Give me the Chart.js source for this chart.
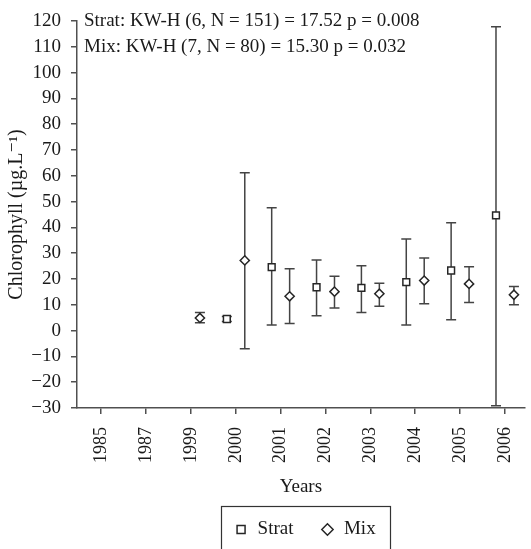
<!DOCTYPE html>
<html>
<head>
<meta charset="utf-8">
<script src="https://cdn.jsdelivr.net/npm/chart.js@4.4.1/dist/chart.umd.min.js"></script>
<style>
html, body { margin: 0; padding: 0; background: #ffffff; }
canvas { display: block; }
</style>
</head>
<body>
<canvas id="chart" width="531" height="549"></canvas>
<script>
// ---- data ----
const categories = ['1985', '1987', '1999', '2000', '2001', '2002', '2003', '2004', '2005', '2006'];
const seriesNames = ['Strat', 'Mix'];

const stratMean = [null, null, null, 4.5, 24.6, 16.8, 16.6, 18.8, 23.3, 44.7];
const stratLow  = [null, null, null, 3.5,  2.2,  5.8,  7.0,  2.2,  4.2, -29.1];
const stratHigh = [null, null, null, 5.5, 47.6, 27.4, 25.1, 35.5, 41.8, 117.8];

const mixMean = [null, null, 4.9, 27.2, 13.3, 15.1, 14.3, 19.4, 18.1, 13.9];
const mixLow  = [null, null, 3.0, -7.0,  2.8,  8.8,  9.4, 10.4, 10.9, 10.0];
const mixHigh = [null, null, 7.0, 61.2, 24.0, 21.1, 18.4, 28.1, 24.7, 17.1];

const yMin = -30, yMax = 120, yStep = 10;
const statLines = [
  'Strat: KW-H (6, N = 151) = 17.52 p = 0.008',
  'Mix: KW-H (7, N = 80) = 15.30 p = 0.032'
];
const yTitle = 'Chlorophyll (\u00b5g.L\u207b\u00b9)';
const xTitle = 'Years';

// ---- style ----
const SERIF = '"Liberation Serif", "Times New Roman", "DejaVu Serif", serif';
const INK = '#1a1a1a';
const AXIS = '#505050';
const FS = 19;
const GROUP_SHIFT = 0.2; // side-by-side placement inside a year

function buildPoints(mean, low, high, shift) {
  const pts = [];
  mean.forEach((v, i) => {
    if (v === null) return;
    pts.push({ x: i + shift, y: v, lo: low[i], hi: high[i] });
  });
  return pts;
}

const errorBars = {
  id: 'errorBars',
  beforeDatasetsDraw(chart) {
    const ctx = chart.ctx;
    const y = chart.scales.y;
    ctx.save();
    ctx.strokeStyle = '#444444';
    ctx.lineWidth = 1.5;
    chart.data.datasets.forEach((ds, di) => {
      const meta = chart.getDatasetMeta(di);
      meta.data.forEach((pt, j) => {
        const d = ds.data[j];
        const x = pt.x;
        const yl = y.getPixelForValue(d.lo);
        const yh = y.getPixelForValue(d.hi);
        ctx.beginPath();
        ctx.moveTo(x, yl); ctx.lineTo(x, yh);
        ctx.moveTo(x - 5, yl); ctx.lineTo(x + 5, yl);
        ctx.moveTo(x - 5, yh); ctx.lineTo(x + 5, yh);
        ctx.stroke();
      });
    });
    ctx.restore();
  }
};

const statText = {
  id: 'statText',
  afterDatasetsDraw(chart) {
    const ctx = chart.ctx;
    const y = chart.scales.y;
    ctx.save();
    ctx.font = FS + 'px ' + SERIF;
    ctx.fillStyle = INK;
    ctx.textAlign = 'left';
    ctx.textBaseline = 'middle';
    statLines.forEach((t, k) => {
      ctx.fillText(t, chart.chartArea.left + 7, y.getPixelForValue(yMax - k * yStep));
    });
    ctx.restore();
  }
};

const legendFrame = {
  id: 'legendFrame',
  afterLayout(chart) {
    const lg = chart.legend;
    const ca = chart.chartArea;
    const dx = (ca.left + ca.right) / 2 + 4 - (lg.left + lg.right) / 2;
    lg.left += dx;
    lg.right += dx;
  },
  afterDraw(chart) {
    const hb = chart.legend.legendHitBoxes;
    if (!hb || !hb.length) return;
    const first = hb[0], last = hb[hb.length - 1];
    const ctx = chart.ctx;
    ctx.save();
    ctx.strokeStyle = '#333333';
    ctx.lineWidth = 1.2;
    const l = Math.round(first.left - 13) + 0.5;
    const r = Math.round(last.left + last.width + 14) + 0.5;
    const t = Math.round(first.top - 14) + 0.5;
    ctx.strokeRect(l, t, r - l, chart.height + 10 - t);
    ctx.restore();
  }
};

Chart.defaults.font.family = SERIF;
Chart.defaults.font.size = FS;
Chart.defaults.color = INK;

new Chart(document.getElementById('chart'), {
  type: 'scatter',
  data: {
    datasets: [
      {
        label: seriesNames[0],
        data: buildPoints(stratMean, stratLow, stratHigh, -GROUP_SHIFT),
        pointStyle: 'rect',
        pointRadius: 4.8,
        pointBackgroundColor: '#ffffff',
        pointBorderColor: '#262626',
        pointBorderWidth: 1.5,
        backgroundColor: '#ffffff',
        borderColor: '#262626'
      },
      {
        label: seriesNames[1],
        data: buildPoints(mixMean, mixLow, mixHigh, GROUP_SHIFT),
        pointStyle: 'rectRot',
        pointRadius: 4.6,
        pointBackgroundColor: '#ffffff',
        pointBorderColor: '#262626',
        pointBorderWidth: 1.5,
        backgroundColor: '#ffffff',
        borderColor: '#262626'
      }
    ]
  },
  options: {
    responsive: false,
    animation: false,
    devicePixelRatio: 1,
    layout: { padding: { top: 21, right: 0, bottom: 0, left: 0 } },
    plugins: {
      tooltip: { enabled: false },
      legend: {
        display: true,
        position: 'bottom',
        align: 'center',
        labels: {
          usePointStyle: true,
          boxWidth: 14,
          boxHeight: 8,
          padding: 27,
          color: INK,
          font: { size: FS, family: SERIF }
        }
      }
    },
    scales: {
      x: {
        type: 'linear',
        min: -0.54,
        max: 9.44,
        afterBuildTicks(scale) {
          scale.ticks = categories.map((c, i) => ({ value: i }));
        },
        afterFit(scale) {
          scale.height = 85;
          scale.paddingLeft = 0;
          scale.paddingRight = 0;
        },
        ticks: {
          autoSkip: false,
          minRotation: 90,
          maxRotation: 90,
          padding: 13,
          color: INK,
          font: { size: 18 },
          callback: (v) => categories[v] !== undefined ? categories[v] : ''
        },
        grid: {
          display: true,
          drawOnChartArea: false,
          drawTicks: true,
          tickLength: 6,
          color: AXIS,
          lineWidth: 1.5
        },
        border: { display: true, color: AXIS, width: 1.5 },
        title: {
          display: true,
          text: xTitle,
          color: INK,
          font: { size: FS, lineHeight: 0.6 },
          padding: { top: 0, bottom: 0 }
        }
      },
      y: {
        type: 'linear',
        min: yMin,
        max: yMax,
        afterFit(scale) {
          scale.width = 77;
          scale.paddingTop = 0;
          scale.paddingBottom = 0;
        },
        ticks: {
          stepSize: yStep,
          padding: 10,
          color: INK,
          font: { size: FS },
          callback: (v) => v < 0 ? '\u2212' + Math.abs(v) : String(v)
        },
        grid: {
          display: true,
          drawOnChartArea: false,
          drawTicks: true,
          tickLength: 6,
          color: AXIS,
          lineWidth: 1.5
        },
        border: { display: true, color: AXIS, width: 1.5 },
        title: {
          display: true,
          text: yTitle,
          color: INK,
          font: { size: 20 },
          padding: { top: 5, bottom: 0 }
        }
      }
    }
  },
  plugins: [errorBars, statText, legendFrame]
});
</script>
</body>
</html>
